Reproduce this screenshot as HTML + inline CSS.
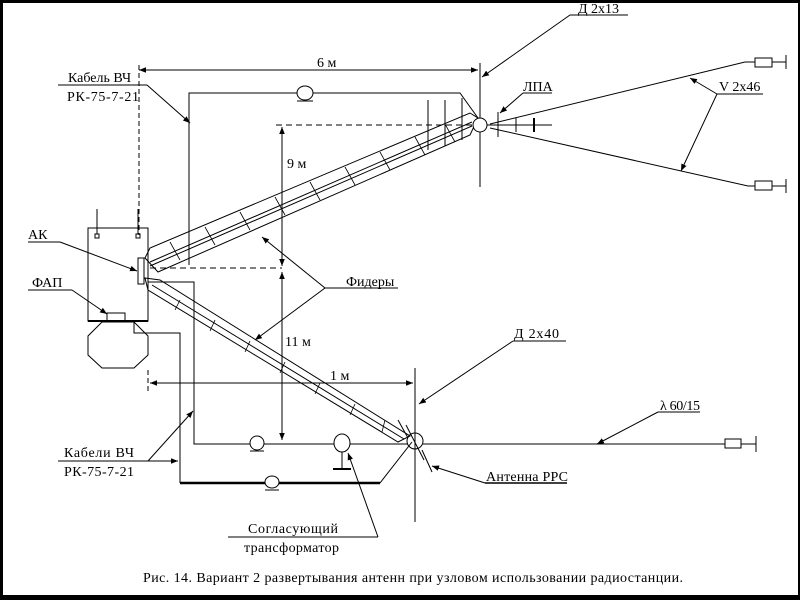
<!DOCTYPE html>
<html><head><meta charset="utf-8"><style>
html,body{margin:0;padding:0;background:#000;}
svg{display:block}
text{font-family:"Liberation Serif","DejaVu Serif",serif;font-size:14px;fill:#000}
</style></head><body>
<svg width="800" height="600" viewBox="0 0 800 600" xmlns="http://www.w3.org/2000/svg">
<defs>
<marker id="a" viewBox="0 0 10 10" refX="10" refY="5" markerWidth="7" markerHeight="7" orient="auto-start-reverse"><path d="M0,1 L10,5 L0,9 z" fill="#000"/></marker>
</defs>
<rect x="3" y="3" width="795" height="592" fill="#fff"/>
<g stroke="#000" stroke-width="1" fill="none">
<!-- 6m dimension -->
<line x1="139" y1="70" x2="478" y2="70" marker-start="url(#a)" marker-end="url(#a)"/>
<line x1="139" y1="65" x2="139" y2="235" stroke-dasharray="5,3"/>
<!-- Kabel VCh top -->
<line x1="58" y1="85" x2="147" y2="85"/>
<line x1="147" y1="85" x2="190" y2="123" marker-end="url(#a)"/>
<polyline points="189,265 189,93 460,93 478,118"/>
<line x1="276" y1="125" x2="475" y2="125" stroke-dasharray="6,4"/>
<line x1="282" y1="127" x2="282" y2="266" marker-start="url(#a)" marker-end="url(#a)"/>
<line x1="150" y1="268" x2="282" y2="268" stroke-dasharray="6,4"/>
<line x1="282" y1="272" x2="282" y2="440" marker-start="url(#a)" marker-end="url(#a)"/>
<!-- box -->
<rect x="88" y="228" width="60" height="93"/>
<line x1="97" y1="209" x2="97" y2="234"/><rect x="95" y="234" width="4" height="4"/>
<line x1="138" y1="209" x2="138" y2="234"/><rect x="136" y="234" width="4" height="4"/>
<rect x="138" y="258" width="6" height="26"/>
<line x1="88" y1="321" x2="148" y2="321" stroke-width="2"/>
<rect x="107" y="313" width="18" height="8"/>
<polygon points="102,322 134,322 148,336 148,355 134,368 102,368 88,355 88,336"/>
<line x1="28" y1="242" x2="60" y2="242"/>
<line x1="60" y1="242" x2="137" y2="271" marker-end="url(#a)"/>
<line x1="28" y1="290" x2="72" y2="290"/>
<line x1="72" y1="290" x2="107" y2="314" marker-end="url(#a)"/>
<!-- cable lines lower -->
<polyline points="134,322 134,333 180,333 180,483"/>
<line x1="180" y1="483" x2="380" y2="483" stroke-width="2.5"/>
<line x1="380" y1="483" x2="412" y2="442"/>
<polyline points="148,282 194,282 194,444 408,444"/>
<line x1="148" y1="370" x2="148" y2="392" stroke-dasharray="5,3"/>
<line x1="150" y1="383" x2="413" y2="383" marker-start="url(#a)" marker-end="url(#a)"/>
<line x1="415" y1="368" x2="415" y2="522"/>
<circle cx="415" cy="441" r="8"/>
<line x1="423" y1="444" x2="725" y2="444"/>
<rect x="725" y="439" width="16" height="9"/>
<line x1="741" y1="444" x2="756" y2="444"/><line x1="756" y1="436" x2="756" y2="452"/>
<line x1="406" y1="425" x2="424" y2="460"/><line x1="398" y1="420" x2="408" y2="438"/>
<line x1="422" y1="450" x2="432" y2="472"/>
<!-- coils -->
<ellipse cx="305" cy="93" rx="8" ry="7" fill="#fff"/><line x1="297" y1="101" x2="313" y2="101"/>
<ellipse cx="257" cy="443" rx="7" ry="7" fill="#fff"/><line x1="250" y1="451" x2="264" y2="451"/>
<ellipse cx="272" cy="482" rx="7" ry="6" fill="#fff"/><line x1="265" y1="490" x2="279" y2="490"/>
<ellipse cx="342" cy="443" rx="8" ry="9" fill="#fff"/>
<line x1="342" y1="452" x2="342" y2="469"/><line x1="333" y1="469" x2="351" y2="469" stroke-width="2"/>
<!-- feeders upper -->
<polygon points="145,258 150,248 470,113 478,118 470,135 158,272"/>
<line x1="150" y1="262" x2="472" y2="122"/><line x1="150" y1="266" x2="472" y2="126"/>
<g stroke-width="0.8">
<line x1="170" y1="242" x2="180" y2="260"/><line x1="205" y1="227" x2="215" y2="245"/><line x1="240" y1="212" x2="250" y2="230"/>
<line x1="275" y1="197" x2="285" y2="215"/><line x1="310" y1="182" x2="320" y2="200"/><line x1="345" y1="167" x2="355" y2="185"/>
<line x1="380" y1="152" x2="390" y2="170"/><line x1="415" y1="137" x2="425" y2="155"/><line x1="445" y1="124" x2="455" y2="142"/>
</g>
<line x1="428" y1="100" x2="428" y2="150"/><line x1="445" y1="100" x2="445" y2="146"/><line x1="462" y1="98" x2="462" y2="140"/>
<!-- feeders lower -->
<polygon points="145,278 148,290 398,442 410,436 160,280"/>
<line x1="152" y1="285" x2="404" y2="439"/>
<g stroke-width="0.8">
<line x1="180" y1="300" x2="175" y2="310"/><line x1="215" y1="320" x2="210" y2="331"/><line x1="250" y1="341" x2="245" y2="352"/>
<line x1="285" y1="362" x2="280" y2="373"/><line x1="320" y1="383" x2="315" y2="394"/><line x1="355" y1="404" x2="350" y2="415"/><line x1="385" y1="420" x2="382" y2="432"/>
</g>
<!-- top mast -->
<line x1="480" y1="63" x2="480" y2="187"/>
<circle cx="480" cy="125" r="7" fill="#fff"/>
<line x1="570" y1="15" x2="628" y2="15"/>
<line x1="570" y1="15" x2="482" y2="77" marker-end="url(#a)"/>
<line x1="487" y1="125" x2="552" y2="125"/>
<line x1="498" y1="112" x2="498" y2="137"/><line x1="516" y1="118" x2="516" y2="132"/><line x1="534" y1="118" x2="534" y2="132" stroke-width="2"/>
<line x1="523" y1="93" x2="552" y2="93"/>
<line x1="523" y1="93" x2="500" y2="113" marker-end="url(#a)"/>
<polyline points="490,124 745,62 755,62"/><rect x="755" y="58" width="17" height="9"/>
<line x1="772" y1="62" x2="786" y2="62"/><line x1="786" y1="55" x2="786" y2="69"/>
<polyline points="490,128 748,186 755,186"/><rect x="755" y="181" width="17" height="9"/>
<line x1="772" y1="186" x2="786" y2="186"/><line x1="786" y1="179" x2="786" y2="193"/>
<line x1="717" y1="94" x2="763" y2="94"/>
<line x1="717" y1="94" x2="690" y2="78" marker-end="url(#a)"/>
<line x1="717" y1="94" x2="681" y2="171" marker-end="url(#a)"/>
<!-- Fidery -->
<line x1="325" y1="288" x2="398" y2="288"/>
<line x1="325" y1="288" x2="262" y2="237" marker-end="url(#a)"/>
<line x1="325" y1="288" x2="255" y2="340" marker-end="url(#a)"/>
<!-- D2x40 -->
<line x1="513" y1="341" x2="566" y2="341"/>
<line x1="513" y1="341" x2="419" y2="404" marker-end="url(#a)"/>
<line x1="658" y1="412" x2="700" y2="412"/>
<line x1="658" y1="412" x2="597" y2="444" marker-end="url(#a)"/>
<line x1="485" y1="483" x2="567" y2="483" stroke-width="1.5"/>
<line x1="485" y1="483" x2="432" y2="466" marker-end="url(#a)"/>
<line x1="58" y1="461" x2="148" y2="461"/>
<line x1="148" y1="461" x2="193" y2="411" marker-end="url(#a)"/>
<line x1="148" y1="461" x2="178" y2="461" marker-end="url(#a)"/>
<line x1="228" y1="537" x2="378" y2="537"/>
<line x1="378" y1="537" x2="348" y2="453" marker-end="url(#a)"/>
</g>
<text x="68" y="82">Кабель ВЧ</text>
<text x="67" y="101" textLength="72">РК-75-7-21</text>
<text x="317" y="67">6 м</text>
<text x="287" y="168">9 м</text>
<text x="285" y="346">11 м</text>
<text x="330" y="380">1 м</text>
<text x="28" y="239" font-size="15">АК</text>
<text x="32" y="287" font-size="15">ФАП</text>
<text x="346" y="286">Фидеры</text>
<text x="578" y="13">Д 2х13</text>
<text x="523" y="91">ЛПА</text>
<text x="719" y="91">V  2х46</text>
<text x="514" y="338" textLength="45">Д 2х40</text>
<text x="660" y="410" textLength="40">λ 60/15</text>
<text x="486" y="481" textLength="82">Антенна РРС</text>
<text x="64" y="457" textLength="70">Кабели ВЧ</text>
<text x="64" y="476" textLength="70">РК-75-7-21</text>
<text x="248" y="533" textLength="90">Согласующий</text>
<text x="244" y="552" textLength="95" font-size="13">трансформатор</text>
<text x="143" y="582" textLength="540" font-size="13">Рис.  14. Вариант 2 развертывания антенн при узловом использовании радиостанции.</text>
</svg>
</body></html>
